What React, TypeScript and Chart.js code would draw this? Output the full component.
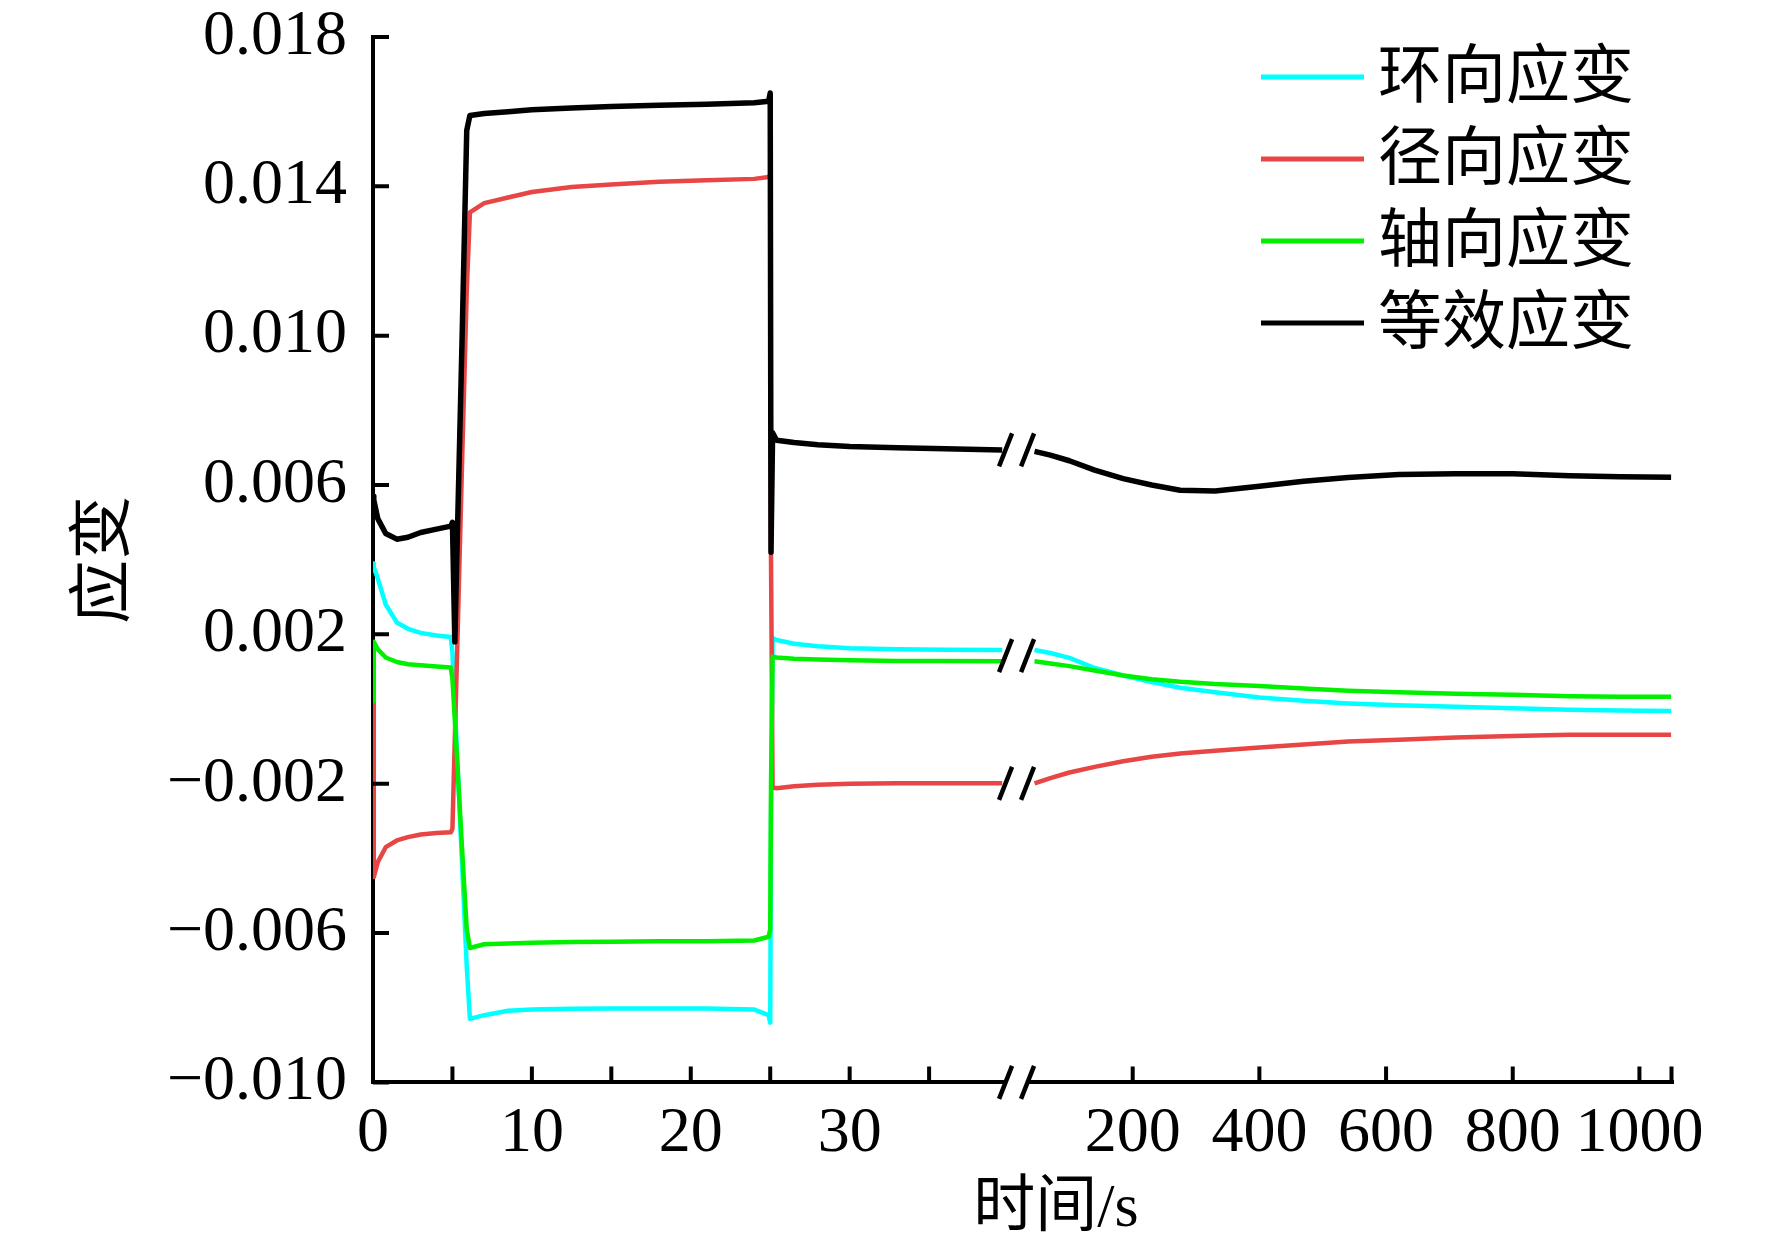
import { useEffect, useRef } from "react";
import { Chart, registerables } from "chart.js";
import type { Plugin } from "chart.js";

Chart.register(...registerables);

const NUM_FONT = '"Liberation Serif", "Times New Roman", serif';
const CJK_FONT = '"Noto Sans CJK SC", "Noto Sans", sans-serif';

// series names / colours (legend order)
const seriesLabels = ["环向应变", "径向应变", "轴向应变", "等效应变"];
const seriesColors = ["#00ffff", "#e84545", "#00f000", "#000000"];
const seriesWidths = [4.5, 4.5, 4.5, 5.5];
// smaller order = drawn on top
const seriesOrder = [3, 2, 1, 0];

// 0–40 s part of the time axis
const timeEarly = [
  0, 0.05, 0.3, 0.8, 1.5, 2.2, 3, 4, 4.9, 5.0, 5.15, 5.3, 5.6, 5.9, 6.1, 7,
  8.5, 10, 12.5, 15, 18, 21, 24, 24.9, 25.0, 25.05, 25.15, 25.4, 26.5, 28, 30,
  33, 36, 39.6,
];
const hoopEarly = [
  0.0039, 0.0038, 0.0035, 0.0028, 0.00232, 0.00215, 0.00204, 0.00197, 0.00193,
  0.0015, 0.0001, -0.0013, -0.0041, -0.0069, -0.0083, -0.0082, -0.00808,
  -0.00805, -0.00803, -0.00802, -0.00802, -0.00802, -0.00805, -0.0082, -0.0084,
  -0.003, 0.0019, 0.00185, 0.00175, 0.00168, 0.00163, 0.0016, 0.00159, 0.00158,
];
const radialEarly = [
  0.0002, -0.0045, -0.0041, -0.0037, -0.00352, -0.00343, -0.00336, -0.00332,
  -0.0033, -0.0032, -0.0008, 0.0016, 0.0065, 0.0112, 0.0133, 0.01355, 0.0137,
  0.01385, 0.01398, 0.01405, 0.01412, 0.01416, 0.0142, 0.01425, 0.01432, 0.004,
  -0.0021, -0.00212, -0.00207, -0.00203, -0.002, -0.00199, -0.00199, -0.00199,
];
const axialEarly = [
  0.0002, 0.0018, 0.0016, 0.00138, 0.00126, 0.0012, 0.00117, 0.00114, 0.00111,
  0.0008, -0.0003, -0.0014, -0.0037, -0.0059, -0.0064, -0.0063, -0.00628,
  -0.00626, -0.00624, -0.00623, -0.00622, -0.00622, -0.0062, -0.0061, -0.0059,
  -0.002, 0.0014, 0.00138, 0.00135, 0.00133, 0.00131, 0.00129, 0.00129, 0.00128,
];
const equivEarly = [
  0.0057, 0.0056, 0.0051, 0.0047, 0.00455, 0.0046, 0.00473, 0.00482, 0.0049,
  0.005, 0.0018, 0.0045, 0.0098, 0.0155, 0.0159, 0.01595, 0.016, 0.01605,
  0.0161, 0.01614, 0.01617, 0.0162, 0.01624, 0.01628, 0.0165, 0.0042, 0.0074,
  0.0072, 0.00714, 0.00708, 0.00703, 0.007, 0.00697, 0.00694,
];

// long-time part of the axis (after the break)
const timeLate = [
  45, 70, 100, 140, 185, 230, 275, 330, 400, 470, 540, 620, 710, 800, 890, 970,
  1050,
];
const hoopLate = [
  0.00158, 0.0015, 0.00137, 0.0011, 0.0009, 0.00072, 0.00057, 0.00045, 0.00031,
  0.00022, 0.00015, 0.0001, 0.00006, 0.00002, -0.00002, -0.00004, -0.00005,
];
const radialLate = [
  -0.00199, -0.00185, -0.0017, -0.00155, -0.0014, -0.00128, -0.00119, -0.00112,
  -0.00103, -0.00095, -0.00087, -0.00082, -0.00076, -0.00072, -0.00069,
  -0.00069, -0.00069,
];
const axialLate = [
  0.00128, 0.00122, 0.00115, 0.00103, 0.0009, 0.0008, 0.00073, 0.00067,
  0.00062, 0.00055, 0.00049, 0.00045, 0.00041, 0.00038, 0.00034, 0.00033,
  0.00033,
];
const equivLate = [
  0.0069, 0.0068, 0.00665, 0.0064, 0.00617, 0.006, 0.00586, 0.00584, 0.00597,
  0.0061, 0.0062, 0.00628, 0.0063, 0.0063, 0.00625, 0.00622, 0.00621,
];

// axes
const yTicks = [-0.01, -0.006, -0.002, 0.002, 0.006, 0.01, 0.014, 0.018];
const xEarlyTicks = [0, 5, 10, 15, 20, 25, 30, 35];
const xEarlyLabels = [0, 10, 20, 30];
const xLateTicks = [200, 400, 600, 800, 1000];
const X_EARLY_MAX = 40;
const X_LATE_MIN = 4;
const X_LATE_MAX = 1053;

const earlySeries = [hoopEarly, radialEarly, axialEarly, equivEarly];
const lateSeries = [hoopLate, radialLate, axialLate, equivLate];

const TICK_LEN = 16;

function formatStrain(v: number) {
  const s = Math.abs(v).toFixed(3);
  return v < -1e-9 ? "\u2212" + s : s;
}

// inward ticks, axis break marks, legend and x title
const decorPlugin: Plugin<"line"> = {
  id: "strainDecor",
  afterDraw(chart) {
    const { ctx, chartArea } = chart;
    const yScale = chart.scales.y;
    const xa = chart.scales.xEarly;
    const xb = chart.scales.xLate;
    ctx.save();

    ctx.strokeStyle = "#000";
    ctx.lineWidth = 4;
    ctx.lineCap = "butt";
    ctx.beginPath();
    for (const v of yTicks) {
      const py = yScale.getPixelForValue(v);
      ctx.moveTo(chartArea.left, py);
      ctx.lineTo(chartArea.left + TICK_LEN, py);
    }
    for (const v of xEarlyTicks) {
      if (v === 0) continue;
      const px = xa.getPixelForValue(v);
      ctx.moveTo(px, chartArea.bottom);
      ctx.lineTo(px, chartArea.bottom - TICK_LEN);
    }
    for (const v of [...xLateTicks, X_LATE_MAX]) {
      const px = Math.min(xb.getPixelForValue(v), chartArea.right - 1.5);
      ctx.moveTo(px, chartArea.bottom);
      ctx.lineTo(px, chartArea.bottom - TICK_LEN);
    }
    ctx.stroke();

    // axis break
    const bx = xa.right;
    ctx.fillStyle = "#fff";
    ctx.fillRect(bx - 3, chartArea.bottom - 4, 22, 8);
    const levels = earlySeries
      .map((a) => yScale.getPixelForValue(a[a.length - 1]))
      .sort((a, b) => a - b);
    const merged: number[] = [];
    for (const l of levels) {
      const last = merged[merged.length - 1];
      if (last !== undefined && Math.abs(l - last) < 25) {
        merged[merged.length - 1] = (last + l) / 2;
      } else merged.push(l);
    }
    merged.push(chartArea.bottom);
    ctx.lineWidth = 4.5;
    ctx.beginPath();
    for (const cy of merged) {
      for (const cx of [bx - 3, bx + 19]) {
        ctx.moveTo(cx - 6.5, cy + 16.5);
        ctx.lineTo(cx + 6.5, cy - 16.5);
      }
    }
    ctx.stroke();

    // legend
    ctx.font = `64px ${CJK_FONT}`;
    ctx.textAlign = "left";
    ctx.textBaseline = "middle";
    seriesLabels.forEach((label, i) => {
      const rowY = chartArea.top + 40 + i * 82;
      ctx.strokeStyle = seriesColors[i];
      ctx.lineWidth = 5;
      ctx.beginPath();
      ctx.moveTo(chartArea.right - 412, rowY);
      ctx.lineTo(chartArea.right - 309, rowY);
      ctx.stroke();
      ctx.fillStyle = "#000";
      ctx.fillText(label, chartArea.right - 295, rowY - 4);
    });

    // x axis title
    ctx.font = `62px "Liberation Serif", ${CJK_FONT}`;
    ctx.textAlign = "center";
    ctx.fillStyle = "#000";
    ctx.fillText("时间/s", chartArea.left + 683, chartArea.bottom + 127);

    ctx.restore();
  },
};

export default function App() {
  const canvasRef = useRef<HTMLCanvasElement>(null);
  const chartRef = useRef<Chart | null>(null);

  useEffect(() => {
    document.body.style.margin = "0";
    const canvas = canvasRef.current;
    if (!canvas) return;

    if (chartRef.current) {
      chartRef.current.destroy();
      chartRef.current = null;
    }

    const datasets: any[] = [];
    seriesLabels.forEach((label, i) => {
      const common = {
        label,
        borderColor: seriesColors[i],
        backgroundColor: seriesColors[i],
        borderWidth: seriesWidths[i],
        borderJoinStyle: "round",
        pointRadius: 0,
        tension: 0,
        fill: false,
        order: seriesOrder[i],
        yAxisID: "y",
      };
      datasets.push({
        ...common,
        xAxisID: "xEarly",
        data: timeEarly.map((t, k) => ({ x: t, y: earlySeries[i][k] })),
      });
      datasets.push({
        ...common,
        xAxisID: "xLate",
        data: timeLate.map((t, k) => ({ x: t, y: lateSeries[i][k] })),
      });
    });

    const tickFont = { family: NUM_FONT, size: 64, lineHeight: 1 };

    chartRef.current = new Chart(canvas, {
      type: "line",
      data: { datasets },
      options: {
        responsive: false,
        animation: false,
        events: [],
        devicePixelRatio: 1,
        layout: { padding: { left: 0, top: 37, right: 99, bottom: 0 } },
        plugins: {
          legend: { display: false },
          tooltip: { enabled: false },
        },
        scales: {
          y: {
            type: "linear",
            position: "left",
            min: -0.01,
            max: 0.018,
            afterBuildTicks: (scale: any) => {
              scale.ticks = yTicks.map((value) => ({ value }));
            },
            afterFit: (scale: any) => {
              scale.width = 373;
              scale.paddingTop = 0;
              scale.paddingBottom = 0;
            },
            grid: { display: false, drawTicks: false },
            border: { display: true, color: "#000", width: 4 },
            ticks: {
              autoSkip: false,
              padding: 26,
              color: "#000",
              font: tickFont,
              callback: (v: any) => formatStrain(Number(v)),
            },
            title: {
              display: true,
              text: "应变",
              color: "#000",
              font: { family: CJK_FONT, size: 64, lineHeight: 1 },
              padding: { top: 67, bottom: 0 },
            },
          },
          xEarly: {
            type: "linear",
            position: "bottom",
            stack: "time",
            stackWeight: X_EARLY_MAX,
            min: 0,
            max: X_EARLY_MAX,
            afterBuildTicks: (scale: any) => {
              scale.ticks = xEarlyTicks.map((value) => ({ value }));
            },
            afterFit: (scale: any) => {
              scale.height = 162.6;
              scale.paddingLeft = 0;
              scale.paddingRight = 0;
            },
            grid: { display: false, drawTicks: false },
            border: { display: true, color: "#000", width: 4 },
            ticks: {
              autoSkip: false,
              maxRotation: 0,
              padding: 20,
              color: "#000",
              font: tickFont,
              callback: (v: any) =>
                xEarlyLabels.includes(Number(v)) ? String(v) : "",
            },
          },
          xLate: {
            type: "linear",
            position: "bottom",
            stack: "time",
            stackWeight: ((X_LATE_MAX - X_LATE_MIN) * 0.6333) / 15.886,
            min: X_LATE_MIN,
            max: X_LATE_MAX,
            afterBuildTicks: (scale: any) => {
              scale.ticks = [...xLateTicks, X_LATE_MAX].map((value) => ({
                value,
              }));
            },
            afterFit: (scale: any) => {
              scale.height = 162.6;
              scale.paddingLeft = 0;
              scale.paddingRight = 0;
            },
            grid: { display: false, drawTicks: false },
            border: { display: true, color: "#000", width: 4 },
            ticks: {
              autoSkip: false,
              maxRotation: 0,
              padding: 20,
              color: "#000",
              font: tickFont,
              callback: (v: any) =>
                xLateTicks.includes(Number(v)) ? String(v) : "",
            },
          },
        },
      },
      plugins: [decorPlugin],
    });

    return () => {
      if (chartRef.current) {
        chartRef.current.destroy();
        chartRef.current = null;
      }
    };
  }, []);

  return (
    <div
      style={{
        position: "absolute",
        left: 0,
        top: 0,
        width: 1772,
        height: 1245,
        background: "#fff",
      }}
    >
      <canvas
        ref={canvasRef}
        width={1772}
        height={1245}
        style={{ width: 1772, height: 1245, display: "block" }}
      />
    </div>
  );
}
